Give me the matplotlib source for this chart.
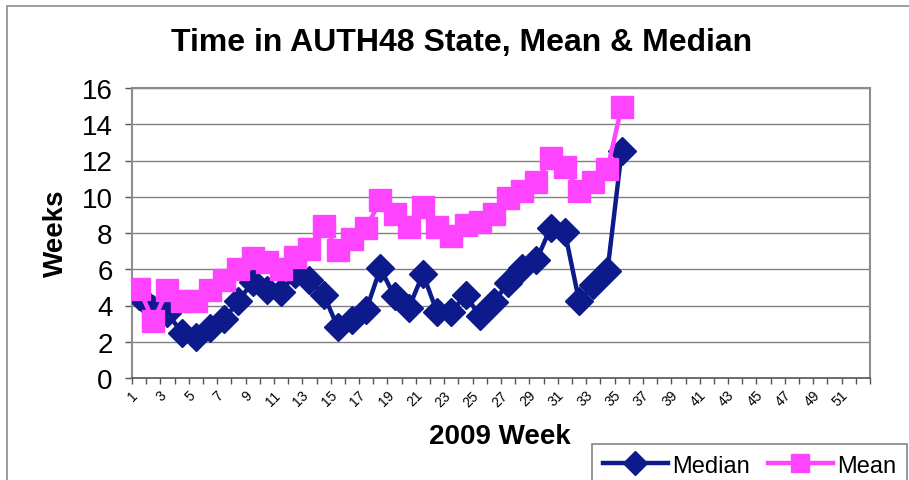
import numpy as np
import matplotlib
matplotlib.use('Agg')
import matplotlib.pyplot as plt
import matplotlib.transforms as mtrans
from matplotlib.patches import Rectangle

plt.rcParams['font.family'] = ['Liberation Sans', 'DejaVu Sans']

# 2009 weeks on the category axis
weeks = list(range(1, 53))
week_labels = [str(w) if w % 2 == 1 else '' for w in weeks]

# values, weeks 1..35
median = [4.5, 3.8, 3.6, 2.5, 2.25, 2.77, 3.25, 4.25, 5.3, 4.85,
          4.75, 5.75, 5.4, 4.6, 2.8, 3.2, 3.75, 6.05, 4.5, 3.85,
          5.75, 3.62, 3.62, 4.6, 3.4, 4.2, 5.25, 6.05, 6.5, 8.3,
          8.05, 4.25, 5.13, 5.9, 12.5]
mean = [4.93, 3.15, 4.85, 4.23, 4.23, 4.85, 5.38, 6.0, 6.6, 6.4,
        6.02, 6.69, 7.12, 8.41, 7.08, 7.67, 8.26, 9.82, 9.03, 8.31,
        9.44, 8.31, 7.82, 8.44, 8.63, 9.03, 9.95, 10.34, 10.84, 12.13,
        11.63, 10.34, 10.8, 11.54, 14.96]

navy = '#0d1a8c'
pink = '#ff44ff'

W, H = 909, 481
fig = plt.figure(figsize=(W/100, H/100), dpi=100)
ax = fig.add_axes([132/W, 1-379/H, 738/W, 290/H])

# outer chart border
fig.patches.append(Rectangle((7/W, -0.1), 1.2, 1.1-7/H, transform=fig.transFigure,
                             fill=False, edgecolor='#8c8c8c', lw=1.2))

x_med = weeks[:len(median)]
x_mean = weeks[:len(mean)]
ax.plot(x_med, median, color=navy, lw=3.2, marker='D', ms=14,
        mec=navy, mfc=navy, label='Median', zorder=3)
ax.plot(x_mean, mean, color=pink, lw=3.2, marker='s', ms=15.5,
        mec=pink, mfc=pink, label='Mean', zorder=4)

ax.set_xlim(0.5, 52.5)
ax.set_ylim(0, 16)
ax.set_yticks(range(0, 17, 2))
ax.tick_params(axis='y', labelsize=20, length=5, width=1, color='#555555', pad=9)
ax.yaxis.grid(True, color='#808080', lw=1)
ax.set_axisbelow(True)

ax.set_xticks(weeks)
ax.set_xticklabels(week_labels, rotation=45, ha='right', va='top',
                   rotation_mode='anchor', fontsize=10)
ax.tick_params(axis='x', length=0, pad=7)
ax.set_xticks(np.arange(0.5, 53, 1), minor=True)
ax.tick_params(axis='x', which='minor', length=4, width=1, color='#555555')
shift = mtrans.ScaledTranslation(-8/100, 0, fig.dpi_scale_trans)
for lab in ax.get_xticklabels():
    lab.set_transform(lab.get_transform() + shift)

for s in ['top', 'right', 'left']:
    ax.spines[s].set_color('#8c8c8c')
    ax.spines[s].set_linewidth(1.5)
ax.spines['bottom'].set_color('#555555')
ax.spines['bottom'].set_linewidth(1.2)

fig.text(462/W, 1-43/H, 'Time in AUTH48 State, Mean & Median',
         ha='center', va='center', fontsize=23, fontweight='bold')
fig.text(500/W, 1-437/H, '2009 Week', ha='center', va='center',
         fontsize=20, fontweight='bold')
fig.text(56/W, 1-233/H, 'Weeks', ha='center', va='center', rotation=90,
         fontsize=20, fontweight='bold')

leg = fig.legend(loc='upper left', bbox_to_anchor=(592/W, 1-445/H), ncol=2,
                 fontsize=17, frameon=True, fancybox=False, handlelength=2.75,
                 borderpad=0.45, columnspacing=0.75, handletextpad=0.2,
                 borderaxespad=0, markerscale=0.85)
leg.get_frame().set_edgecolor('#666666')
leg.get_frame().set_linewidth(1.2)

fig.savefig('out.png', dpi=100)
